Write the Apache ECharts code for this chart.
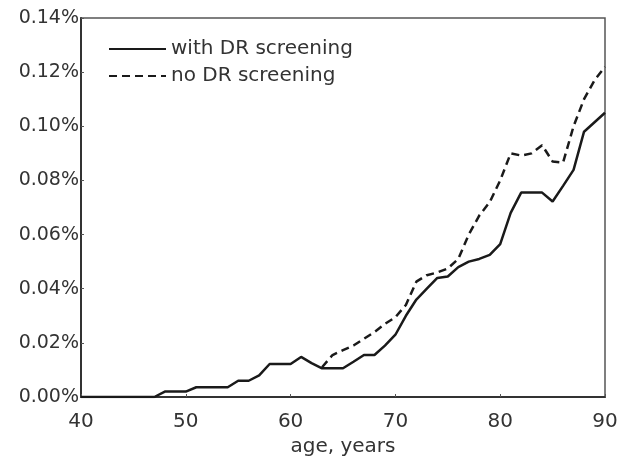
<html>
<head>
<meta charset="utf-8">
<script src="https://cdn.jsdelivr.net/npm/echarts@6/dist/echarts.min.js"></script>
</head>
<body>
<style>
    html, body, #main {
        width: 100%;
        height: 100%;
        margin: 0;
        background: #fff;
    }
</style>
<div id="main"></div>
<script>

// ages (years) and incidence (%)
var agesWith = [40, 41, 42, 43, 44, 45, 46, 47, 48, 49, 50, 51, 52, 53, 54, 55, 56, 57, 58, 59,
                60, 61, 62, 63, 64, 65, 66, 67, 68, 69, 70, 71, 72, 73, 74, 75, 76, 77, 78, 79,
                80, 81, 82, 83, 84, 85, 86, 87, 88, 89, 90];
var withScreening = [0, 0, 0, 0, 0, 0, 0, 0, 0.002, 0.002, 0.002, 0.0036, 0.0036, 0.0036, 0.0036, 0.006, 0.006, 0.008, 0.0122, 0.0122,
                     0.0122, 0.0148, 0.0125, 0.0106, 0.0106, 0.0106, 0.013, 0.0155, 0.0155, 0.019, 0.023, 0.030, 0.036, 0.040, 0.044, 0.0445, 0.048, 0.050, 0.051, 0.0525,
                     0.0565, 0.068, 0.0755, 0.0755, 0.0755, 0.0722, 0.078, 0.0839, 0.098, 0.1015, 0.105];

var agesNo = [63, 64, 65, 66, 67, 68, 69, 70, 71, 72, 73, 74, 75, 76, 77, 78, 79,
              80, 81, 82, 83, 84, 85, 86, 87, 88, 89, 90];
var noScreening = [0.011, 0.0155, 0.0173, 0.019, 0.0215, 0.024, 0.027, 0.0295, 0.034, 0.0426, 0.045, 0.046, 0.0475, 0.051, 0.060, 0.067, 0.072,
                   0.080, 0.090, 0.0892, 0.090, 0.093, 0.087, 0.0866, 0.100, 0.110, 0.117, 0.122];

var seriesNames = ['with DR screening', 'no DR screening'];

function pairs(xs, ys) {
    var out = [];
    for (var i = 0; i < xs.length; i++) out.push([xs[i], ys[i]]);
    return out;
}

var chart = echarts.init(document.getElementById('main'));
var textColor = '#333';
var font = 'DejaVu Sans';

chart.setOption({
    animation: false,
    grid: { left: 81, right: 20, top: 18, bottom: 66 },
    legend: {
        left: 103,
        top: 34,
        orient: 'vertical',
        itemWidth: 57,
        itemHeight: 14,
        itemGap: 7,
        itemStyle: { opacity: 0 },
        textStyle: { fontFamily: font, fontSize: 20, color: textColor },
        data: seriesNames
    },
    xAxis: {
        type: 'value',
        min: 40,
        max: 90,
        interval: 10,
        name: 'age, years',
        nameLocation: 'middle',
        nameGap: 31,
        nameTextStyle: { fontFamily: font, fontSize: 20, color: textColor },
        axisLine: { lineStyle: { color: '#333', width: 2 } },
        axisTick: { inside: true, length: 3, lineStyle: { color: '#555' } },
        axisLabel: { fontFamily: font, fontSize: 20, color: textColor, margin: 15 },
        splitLine: { show: false }
    },
    yAxis: {
        type: 'value',
        min: 0,
        max: 0.14,
        interval: 0.02,
        axisLine: { show: true, lineStyle: { color: '#333', width: 2 } },
        axisTick: { show: true, inside: true, length: 3, lineStyle: { color: '#555' } },
        axisLabel: {
            fontFamily: font, fontSize: 19, color: textColor, margin: 2,
            formatter: function (v) { return v.toFixed(2) + '%'; }
        },
        splitLine: { show: false }
    },
    graphic: [{
        type: 'rect',
        shape: { x: 81, y: 18, width: 524, height: 379 },
        style: { fill: 'none', stroke: '#555', lineWidth: 1.5 },
        silent: true
    }],
    series: [
        {
            name: seriesNames[0],
            type: 'line',
            symbol: 'none',
            data: pairs(agesWith, withScreening),
            lineStyle: { color: '#1a1a1a', width: 2.5 },
            itemStyle: { color: '#1a1a1a' }
        },
        {
            name: seriesNames[1],
            type: 'line',
            symbol: 'none',
            data: pairs(agesNo, noScreening),
            lineStyle: { color: '#1a1a1a', width: 2.5, type: [8, 5] },
            itemStyle: { color: '#1a1a1a' }
        }
    ]
});

</script>
</body>
</html>
